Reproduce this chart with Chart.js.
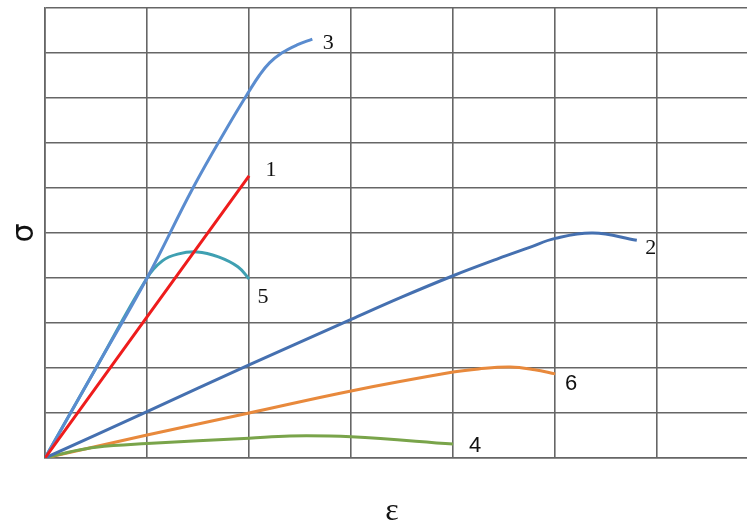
<!DOCTYPE html>
<html>
<head>
<meta charset="utf-8">
<script src="https://cdn.jsdelivr.net/npm/chart.js@4"></script>
<style>
html,body{margin:0;padding:0;background:#fff;}
#wrap{width:747px;height:524px;position:relative;}
</style>
</head>
<body>
<div id="wrap"><canvas id="c" width="747" height="524"></canvas></div>
<script>
// Series data (ε, σ) in grid units
const s1X = [0, 2.0];
const s1Y = [0, 6.27];
const s2X = [0, 1, 2, 3, 3.5, 4, 4.43, 4.75, 5.0, 5.37, 5.8];
const s2Y = [0, 1.03, 2.07, 3.08, 3.58, 4.05, 4.42, 4.68, 4.88, 5.0, 4.84];
const s3X = [0, 0.5, 1.0, 1.45, 1.8, 2.0, 2.1, 2.2, 2.32, 2.47, 2.62];
const s3Y = [0, 2.0, 4.0, 6.0, 7.4, 8.15, 8.5, 8.78, 9.0, 9.18, 9.31];
const s4X = [0, 0.25, 0.5, 1.0, 2.0, 2.4, 3.0, 4.0];
const s4Y = [0, 0.14, 0.24, 0.32, 0.44, 0.49, 0.47, 0.31];
const s5X = [0, 0.5, 1.0, 1.15, 1.3, 1.49, 1.7, 1.89, 2.0];
const s5Y = [0, 2.0, 4.0, 4.38, 4.53, 4.58, 4.47, 4.25, 3.98];
const s6X = [0, 1, 2, 3, 4, 4.25, 4.56, 4.8, 5.0];
const s6Y = [0, 0.51, 1.0, 1.49, 1.91, 1.98, 2.02, 1.96, 1.87];
const seriesLabels = ["1", "2", "3", "4", "5", "6"];
const xTitle = "ε";
const yTitle = "σ";

function pts(xs, ys){ return xs.map((x,i)=>({x:x, y:ys[i]})); }

const colors = ["#ee1c1c", "#4570b0", "#5a8ccf", "#79a44a", "#3fa0b2", "#e8893c"];
const seriesData = [pts(s1X,s1Y), pts(s2X,s2Y), pts(s3X,s3Y), pts(s4X,s4Y), pts(s5X,s5Y), pts(s6X,s6Y)];
// label offsets from the end point (px)
const labelOff = [[22,-6],[14,8],[16,4],[22,2],[14,18],[16,10]];
const labelFont = ["Liberation Serif","Liberation Serif","Liberation Serif","Liberation Sans","Liberation Serif","Liberation Sans"];

const labelPlugin = {
  id: 'endLabels',
  afterDatasetsDraw(chart){
    const ctx = chart.ctx;
    const xs = chart.scales.x, ys = chart.scales.y;
    ctx.save();
    ctx.fillStyle = '#111';
    ctx.textAlign = 'center';
    ctx.textBaseline = 'middle';
    seriesData.forEach((d,i)=>{
      const p = d[d.length-1];
      const px = xs.getPixelForValue(p.x) + labelOff[i][0];
      const py = ys.getPixelForValue(p.y) + labelOff[i][1];
      ctx.font = '22px "' + labelFont[i] + '"';
      ctx.fillText(seriesLabels[i], px, py);
    });
    // axis titles
    const ca = chart.chartArea;
    ctx.font = '30px "DejaVu Sans"';
    ctx.save();
    ctx.translate(ca.left - 20, ys.getPixelForValue(5));
    ctx.rotate(-Math.PI/2);
    ctx.fillText(yTitle, 0, 0);
    ctx.restore();
    ctx.font = '32px "Liberation Serif"';
    ctx.fillText(xTitle, xs.getPixelForValue(3.4), ca.bottom + 54);
    ctx.restore();
  }
};

new Chart(document.getElementById('c'), {
  type: 'scatter',
  data: {
    datasets: seriesData.map((d,i)=>({
      label: seriesLabels[i],
      data: d,
      showLine: true,
      borderColor: colors[i],
      backgroundColor: colors[i],
      borderWidth: 3,
      pointRadius: 0,
      tension: 0.4,
      fill: false
    }))
  },
  options: {
    responsive: false,
    animation: false,
    events: [],
    layout: { padding: { left: 45, top: 8, right: 0, bottom: 66 } },
    plugins: { legend: { display: false }, tooltip: { enabled: false } },
    scales: {
      x: {
        type: 'linear', min: 0, max: 6.88,
        afterBuildTicks(s){ s.ticks = s.ticks.filter(t => Number.isInteger(t.value)); },
        ticks: { display: false, stepSize: 1 },
        grid: { color: '#666', lineWidth: 1.6, drawTicks: false },
        border: { color: '#666', width: 1.6 }
      },
      y: {
        type: 'linear', min: 0, max: 10,
        ticks: { display: false, stepSize: 1 },
        grid: { color: '#666', lineWidth: 1.6, drawTicks: false },
        border: { color: '#666', width: 1.6 }
      }
    }
  },
  plugins: [labelPlugin]
});
</script>
</body>
</html>
